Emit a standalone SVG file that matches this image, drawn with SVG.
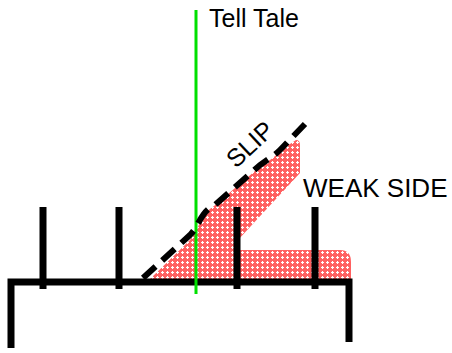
<svg xmlns="http://www.w3.org/2000/svg" width="452" height="353" viewBox="0 0 452 353">
<defs>
<pattern id="hatch" width="5" height="5" patternUnits="userSpaceOnUse">
<rect width="5" height="5" fill="#ff6060"/>
<path d="M2.5,1 V4 M1,2.5 H4" stroke="#fff" stroke-width="1.1"/>
</pattern>
</defs>
<style>
.blk{stroke:#000;stroke-width:7;fill:none}
.txt{font-family:"Liberation Sans",Arial,sans-serif;font-size:25px;fill:#000}
</style>
<rect width="452" height="353" fill="#fff"/>
<g id="weak-area">
<path d="M150,279 L190,240 C200,228 200,215 214,206 L262,165 C272,159 276,156 281,150 L296,140 Q300,140 300,145 L300,173 L238,240 L238,250 L340,250 Q351,250 351,262 L351,279 Z" fill="url(#hatch)"/>
</g>
<g id="base">
<path class="blk" d="M11,348 V282 H349 V342"/>
<path class="blk" d="M43,207 V289 M119,207 V289 M237,207 V289 M315,207 V289"/>
</g>
<g id="tell-tale">
<line x1="196" y1="10" x2="196" y2="294" stroke="#00e000" stroke-width="3"/>
<text class="txt" x="209" y="27">Tell Tale</text>
</g>
<g id="connectors">
<path d="M143,278 L190,235 C200,225 200,212 215,205 L260,165 C270,158 275,155 280,150 L305,124" stroke="#000" stroke-width="6" fill="none" stroke-dasharray="17,9"/>
</g>
<g id="labels">
<text class="txt" x="236" y="169" transform="rotate(-43 236 169)">SLIP</text>
<text class="txt" x="303" y="197" style="font-size:26px">WEAK SIDE</text>
</g>
</svg>
